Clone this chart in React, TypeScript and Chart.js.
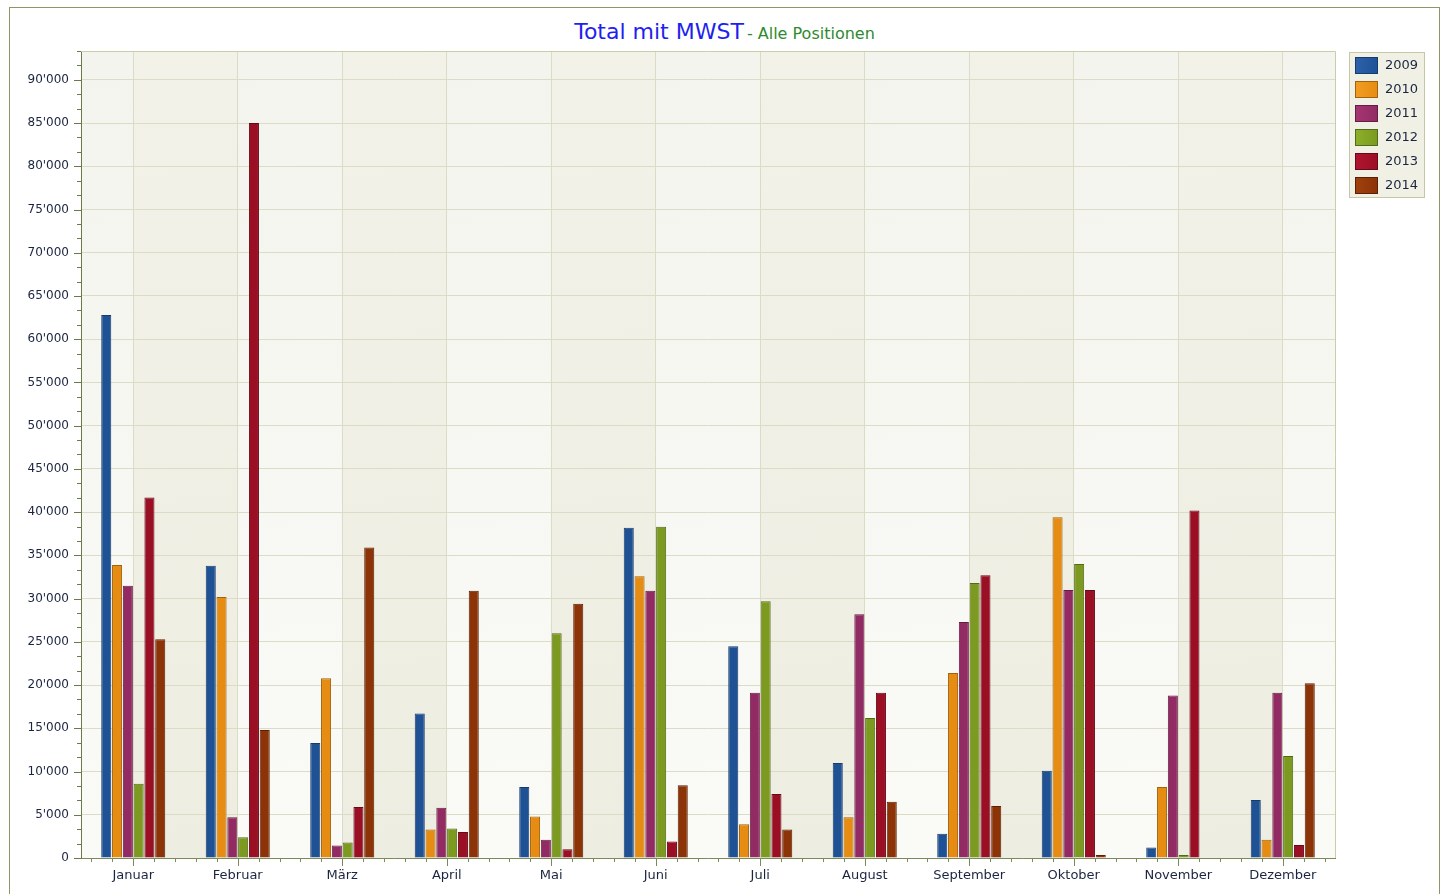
import React, { useEffect, useRef } from "react";
import { Chart, registerables } from "chart.js";

Chart.register(...registerables);

const months = ["Januar", "Februar", "März", "April", "Mai", "Juni", "Juli", "August", "September", "Oktober", "November", "Dezember"];
const years = ["2009", "2010", "2011", "2012", "2013", "2014"];

const v2009 = [62800, 33800, 13300, 16700, 8200, 38200, 24500, 11000, 2800, 10100, 1200, 6700];
const v2010 = [33900, 30200, 20800, 3300, 4800, 32600, 3900, 4700, 21400, 39400, 8200, 2100];
const v2011 = [31500, 4700, 1450, 5800, 2100, 30900, 19100, 28200, 27300, 31000, 18800, 19100];
const v2012 = [8600, 2400, 1800, 3400, 26000, 38300, 29700, 16200, 31800, 34000, 350, 11800];
const v2013 = [41700, 85000, 5900, 3000, 1000, 1900, 7400, 19100, 32700, 31000, 40200, 1500];
const v2014 = [25300, 14800, 35900, 30900, 29400, 8400, 3300, 6500, 6000, 350, 0, 20200];

const yTicks = [0, 5000, 10000, 15000, 20000, 25000, 30000, 35000, 40000, 45000, 50000, 55000, 60000, 65000, 70000, 75000, 80000, 85000, 90000];
const yMax = 93333;
const yStep = 5000;

const seriesValues = [v2009, v2010, v2011, v2012, v2013, v2014];
const fillColors = ["#1f5195", "#e68c12", "#922b63", "#7b9a1f", "#9b0f25", "#8c3307"];
const lightColors = ["#2c62ab", "#f29d22", "#a43674", "#8db02a", "#b01530", "#a0410d"];
const borderColors = ["#173c6c", "#a0620a", "#661d45", "#55691a", "#68091a", "#5c2105"];

const fmt = (v: number) => String(Math.round(v)).replace(/\B(?=(\d{3})+(?!\d))/g, "'");

const decor = {
  id: "decor",
  beforeDraw(chart: any) {
    const { ctx, chartArea: a } = chart;
    const xs = chart.scales.x;
    const bounds = [a.left];
    for (let i = 0; i < months.length; i++) bounds.push(xs.getPixelForValue(i));
    bounds.push(a.right);
    ctx.save();
    for (let j = 0; j < bounds.length - 1; j++) {
      const x0 = bounds[j], x1 = bounds[j + 1];
      const g = ctx.createLinearGradient(x0, a.top, x1, a.bottom);
      if (j % 2 === 0) {
        g.addColorStop(0, "#f4f4ee");
        g.addColorStop(1, "#fafaf7");
      } else {
        g.addColorStop(0, "#f2f2e8");
        g.addColorStop(1, "#ededE2");
      }
      ctx.fillStyle = g;
      ctx.fillRect(x0, a.top, x1 - x0, a.bottom - a.top);
    }
    ctx.restore();
  },
  afterDraw(chart: any) {
    const { ctx, chartArea: a } = chart;
    const xs = chart.scales.x;
    const ys = chart.scales.y;
    ctx.save();
    ctx.strokeStyle = "#c9cdaa";
    ctx.lineWidth = 1;
    ctx.beginPath();
    ctx.moveTo(a.left, a.top + 0.5);
    ctx.lineTo(a.right + 0.5, a.top + 0.5);
    ctx.lineTo(a.right + 0.5, a.bottom);
    ctx.stroke();
    ctx.strokeStyle = "#6b7a4a";
    const minor = yStep / 3;
    for (let k = 0; k * minor <= yMax + 1; k++) {
      const v = k * minor;
      const y = Math.round(ys.getPixelForValue(v)) + 0.5;
      const major = k % 3 === 0;
      ctx.beginPath();
      ctx.moveTo(a.left - (major ? 7 : 4), y);
      ctx.lineTo(a.left, y);
      ctx.stroke();
    }
    ctx.strokeStyle = "#7a8a5a";
    const cw = xs.getPixelForValue(1) - xs.getPixelForValue(0);
    for (let i = 0; i < months.length; i++) {
      const c = xs.getPixelForValue(i);
      for (let m = -2; m <= 2; m++) {
        const x = Math.round(c + (m * cw) / 5) + 0.5;
        if (x < a.left || x > a.right + 1) continue;
        ctx.beginPath();
        ctx.moveTo(x, a.bottom);
        ctx.lineTo(x, a.bottom + (m === 0 ? 8 : 4));
        ctx.stroke();
      }
    }
    const lx = 1339, ly = 44, lw = 76, lh = 146;
    ctx.fillStyle = "#f0f0e5";
    ctx.fillRect(lx, ly, lw, lh);
    ctx.strokeStyle = "#c4c8a6";
    ctx.strokeRect(lx + 0.5, ly + 0.5, lw - 1, lh - 1);
    ctx.font = "13px 'DejaVu Sans'";
    ctx.textBaseline = "middle";
    ctx.textAlign = "left";
    chart.data.datasets.forEach((ds: any, i: number) => {
      const cy = 57 + i * 24;
      const g = ctx.createLinearGradient(lx + 6, 0, lx + 29, 0);
      g.addColorStop(0, lightColors[i]);
      g.addColorStop(1, fillColors[i]);
      ctx.fillStyle = g;
      ctx.fillRect(lx + 6, cy - 8, 23, 17);
      ctx.strokeStyle = borderColors[i];
      ctx.strokeRect(lx + 6.5, cy - 7.5, 22, 16);
      ctx.fillStyle = "#1b2540";
      ctx.fillText(ds.label, lx + 36, cy + 1);
    });
    ctx.restore();
  },
};

export default function App() {
  const ref = useRef<HTMLCanvasElement | null>(null);
  useEffect(() => {
    if (!ref.current) return;
    const chart = new Chart(ref.current, {
      type: "bar",
      data: {
        labels: months,
        datasets: years.map((y, i) => ({
          label: y,
          data: seriesValues[i],
          backgroundColor: fillColors[i],
          borderColor: borderColors[i],
          borderWidth: 1,
          categoryPercentage: 0.62,
          barPercentage: 0.93,
        })),
      },
      options: {
        animation: false,
        responsive: false,
        devicePixelRatio: 1,
        layout: { padding: { top: 43, right: 104, bottom: 0, left: 0 } },
        plugins: { legend: { display: false }, tooltip: { enabled: false }, title: { display: false } },
        scales: {
          x: {
            grid: { offset: false, color: "#dcdcc6", drawTicks: false },
            border: { display: true, color: "#7a8a5a" },
            ticks: { padding: 10, color: "#1b2540", font: { family: "DejaVu Sans", size: 13 } },
            afterFit: (s: any) => { s.height = 48; },
          },
          y: {
            min: 0,
            max: yMax,
            grid: { color: "#dcdcc6", drawTicks: false },
            border: { display: true, color: "#6b7a4a" },
            afterBuildTicks: (s: any) => { s.ticks = yTicks.map((v) => ({ value: v })); },
            ticks: {
              padding: 12,
              color: "#1b2540",
              font: { family: "DejaVu Sans", size: 12 },
              callback: (v: any) => fmt(Number(v)),
            },
            afterFit: (s: any) => { s.width = 71; },
          },
        },
      },
      plugins: [decor],
    });
    return () => chart.destroy();
  }, []);

  return (
    <div
      style={{
        position: "absolute",
        left: 9,
        top: 7,
        width: 1429,
        height: 898,
        border: "1px solid #8a9868",
        background: "#ffffff",
      }}
    >
      <div
        style={{
          position: "absolute",
          left: 0,
          top: 12,
          width: "100%",
          textAlign: "center",
          lineHeight: "24px",
          fontFamily: "'DejaVu Sans'",
          whiteSpace: "nowrap",
        }}
      >
        <span style={{ color: "#1f1ff0", fontSize: 22 }}>Total mit MWST</span>
        <span style={{ color: "#2e8a2e", fontSize: 16, marginLeft: 3 }}>- Alle Positionen</span>
      </div>
      <canvas ref={ref} width={1429} height={898} style={{ position: "absolute", left: 0, top: 0, display: "block" }} />
    </div>
  );
}
